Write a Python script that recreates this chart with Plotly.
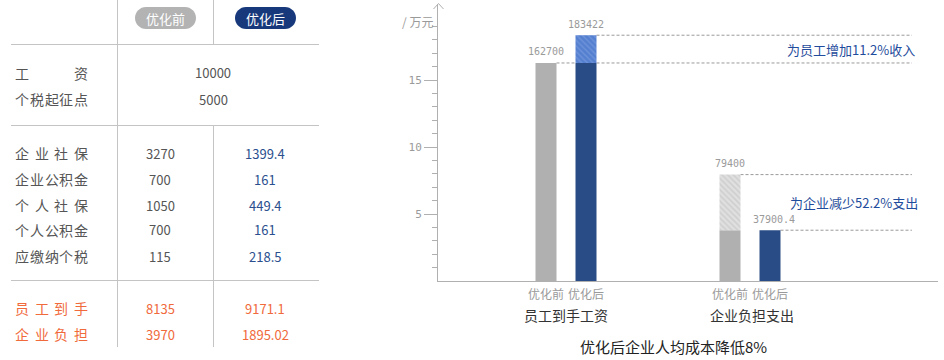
import plotly.graph_objects as go

W, H = 944, 360
CJK = "Noto Sans CJK SC"
MONO = "DejaVu Sans Mono"

# ---------------- table data ----------------
table_header = ["优化前", "优化后"]
merged_labels = ["工资", "个税起征点"]
merged_values = [10000, 5000]
item_labels = ["企业社保", "企业公积金", "个人社保", "个人公积金", "应缴纳个税"]
item_before = [3270, 700, 1050, 700, 115]
item_after = [1399.4, 161, 449.4, 161, 218.5]
total_labels = ["员工到手", "企业负担"]
total_before = [8135, 3970]
total_after = [9171.1, 1895.02]

# ---------------- chart data ----------------
categories = ["员工到手工资", "企业负担支出"]
series_names = ["优化前", "优化后"]
before_yearly = [162700, 79400]
after_yearly = [183422, 37900.4]
diff_notes = ["为员工增加11.2%收入", "为企业减少52.2%支出"]
chart_title = "优化后企业人均成本降低8%"
y_unit = "/ 万元"
y_tickvals = [5, 10, 15]
y_minor_tickvals = list(range(1, 20))

# ---------------- styles ----------------
GRAY_BAR = "#b0b0b1"
NAVY_BAR = "#2a4c86"
LINE = "#c4c4c4"
AXIS = "#b0b0b0"
TXT = "#555555"
BLUE_TXT = "#2b4f8e"
ORANGE = "#f06a3c"


def fmt(v):
    return str(int(v)) if float(v) == int(v) else str(v)


def P(x, y):
    return x / W, 1 - y / H


def wan(v):
    return v / 10000.0


fig = go.Figure()

# ---------------- bars ----------------
lo = [min(b, a) for b, a in zip(before_yearly, after_yearly)]
fig.add_trace(go.Bar(x=categories, y=[wan(v) for v in lo], offsetgroup="b",
                     name=series_names[0], marker=dict(color=GRAY_BAR, line=dict(width=0))))
fig.add_trace(go.Bar(x=categories, y=[wan(v) for v in lo], offsetgroup="a",
                     name=series_names[1], marker=dict(color=NAVY_BAR, line=dict(width=0))))
hb = [(c, l, b) for c, l, b in zip(categories, lo, before_yearly) if b > l]
ha = [(c, l, a) for c, l, a in zip(categories, lo, after_yearly) if a > l]
fig.add_trace(go.Bar(x=[h[0] for h in hb], base=[wan(h[1]) for h in hb],
                     y=[wan(h[2] - h[1]) for h in hb], offsetgroup="b",
                     marker=dict(color="#dadada", line=dict(width=0),
                                 pattern=dict(shape="\\", fgcolor="#bcbcbc", bgcolor="#e0e0e0",
                                              size=4, solidity=0.4))))
fig.add_trace(go.Bar(x=[h[0] for h in ha], base=[wan(h[1]) for h in ha],
                     y=[wan(h[2] - h[1]) for h in ha], offsetgroup="a",
                     marker=dict(color="#5b84d2", line=dict(width=0),
                                 pattern=dict(shape="\\", fgcolor="#86a6e2", bgcolor="#5580d0",
                                              size=4, solidity=0.35))))

BARGAP = 0.5652
BARGROUPGAP = 0.475
slot = (1 - BARGAP) / 2
half_w = slot * (1 - BARGROUPGAP) / 2
offs = [-slot / 2, slot / 2]
X_END = 1.88

shapes = []
annotations = []

# dashed reference lines + value labels + notes
for i, c in enumerate(categories):
    vals = [before_yearly[i], after_yearly[i]]
    for k, v in enumerate(vals):
        shapes.append(dict(type="line", xref="x", yref="y", layer="below",
                           x0=i + offs[k] + half_w, x1=X_END, y0=wan(v), y1=wan(v),
                           line=dict(color="#9a9a9a", width=1, dash="3px,2px")))
        annotations.append(dict(x=c, y=wan(v), xref="x", yref="y", text=fmt(v),
                                showarrow=False, xanchor="center",
                                xshift=offs[k] / slot * 40 + (4 if k == 1 and i == 1 else 0),
                                yshift=11, yanchor="middle",
                                font=dict(family=MONO, size=10, color="#9a9a9a")))
        annotations.append(dict(x=c, y=1 - 293 / H, xref="x", yref="paper", text=series_names[k],
                                showarrow=False, xanchor="center", xshift=offs[k] / slot * 40,
                                yanchor="middle",
                                font=dict(family=CJK, size=12, color="#9a9a9a")))
    annotations.append(dict(x=X_END, y=wan((vals[0] + vals[1]) / 2), xref="x", yref="y",
                            text=diff_notes[i], showarrow=False, xanchor="right", xshift=5 + 3 * i,
                            yanchor="middle", font=dict(family=CJK, size=13, color="#1f4c9c")))
    annotations.append(dict(x=c, y=1 - 315 / H, xref="x", yref="paper", text=c,
                            showarrow=False, xanchor="center", yanchor="middle", xshift=2 * i,
                            font=dict(family=CJK, size=14, color="#333333")))

# title
annotations.append(dict(x=673 / W, y=1 - 346 / H, xref="paper", yref="paper", text=chart_title,
                        showarrow=False, xanchor="center", yanchor="middle",
                        font=dict(family=CJK, size=15, color="#222222")))
# unit
annotations.append(dict(x=435 / W, y=1 - 21 / H, xref="paper", yref="paper", text=y_unit,
                        showarrow=False, xanchor="right", yanchor="middle",
                        font=dict(family=CJK, size=12, color="#9a9a9a")))
# y-axis arrow head
a1, a2, a3 = P(433.5, 9), P(438.5, 3.5), P(443.5, 9)
shapes.append(dict(type="path", xref="paper", yref="paper",
                   path=f"M{a1[0]},{a1[1]} L{a2[0]},{a2[1]} L{a3[0]},{a3[1]}",
                   line=dict(color=AXIS, width=1)))


# ---------------- table ----------------
def hline(y, x0=11, x1=319):
    a, b = P(x0, y + 0.5), P(x1, y + 0.5)
    shapes.append(dict(type="line", xref="paper", yref="paper", x0=a[0], y0=a[1], x1=b[0], y1=b[1],
                       line=dict(color=LINE, width=1)))


def vline(x, y0, y1):
    a, b = P(x + 0.5, y0), P(x + 0.5, y1)
    shapes.append(dict(type="line", xref="paper", yref="paper", x0=a[0], y0=a[1], x1=b[0], y1=b[1],
                       line=dict(color=LINE, width=1)))


hline(44)
hline(125)
hline(280)
vline(117, 0, 347)
vline(213, 0, 44)
vline(213, 125, 347)


def pill(x0, y0, x1, y1, color):
    r = (y1 - y0) / 2
    yc = (y0 + y1) / 2
    k = 0.5523 * r
    pts = [("M", [(x0 + r, y0)]), ("L", [(x1 - r, y0)]),
           ("C", [(x1 - r + k, y0), (x1, yc - k), (x1, yc)]),
           ("C", [(x1, yc + k), (x1 - r + k, y1), (x1 - r, y1)]),
           ("L", [(x0 + r, y1)]),
           ("C", [(x0 + r - k, y1), (x0, yc + k), (x0, yc)]),
           ("C", [(x0, yc - k), (x0 + r - k, y0), (x0 + r, y0)])]
    s = ""
    for cmd, ps in pts:
        s += cmd + " ".join(f"{P(px, py)[0]:.5f},{P(px, py)[1]:.5f}" for px, py in ps) + " "
    shapes.append(dict(type="path", xref="paper", yref="paper", path=s + "Z",
                       fillcolor=color, line=dict(width=0)))


pill(135, 7, 196, 29, "#b3b3b3")
pill(235, 7, 296, 29, "#17397c")
for cx, t in zip([165.5, 265.5], table_header):
    x, y = P(cx, 18)
    annotations.append(dict(x=x, y=y, xref="paper", yref="paper", text=t, showarrow=False,
                            xanchor="center", yanchor="middle",
                            font=dict(family=CJK, size=13, color="white")))


def label(text, y, color):
    n = len(text)
    c0, c1 = 22, 81
    for j, ch in enumerate(text):
        cx = c0 + (c1 - c0) * j / (n - 1)
        x, yy = P(cx, y)
        annotations.append(dict(x=x, y=yy, xref="paper", yref="paper", text=ch, showarrow=False,
                                xanchor="center", yanchor="middle",
                                font=dict(family=CJK, size=14, color=color)))


def cell(text, cx, y, color):
    x, yy = P(cx, y)
    annotations.append(dict(x=x, y=yy, xref="paper", yref="paper", text=text, showarrow=False,
                            xanchor="center", yanchor="middle",
                            font=dict(family=CJK, size=13, color=color)))


merged_y = [73, 99]
for lab, v, y in zip(merged_labels, merged_values, merged_y):
    label(lab, y, TXT)
    cell(fmt(v), 213, y, TXT)

item_y = [153, 179, 205, 230, 256]
for lab, b, a, y in zip(item_labels, item_before, item_after, item_y):
    label(lab, y, TXT)
    cell(fmt(b), 160, y, TXT)
    cell(fmt(a), 265, y, BLUE_TXT)

total_y = [308, 334]
for lab, b, a, y in zip(total_labels, total_before, total_after, total_y):
    label(lab, y, ORANGE)
    cell(fmt(b), 160, y, ORANGE)
    cell(fmt(a), 265, y, ORANGE)

# ---------------- layout ----------------
Y_TOP = 277 / 13.4
fig.update_layout(
    width=W, height=H, margin=dict(l=0, r=0, t=0, b=0),
    paper_bgcolor="white", plot_bgcolor="white",
    showlegend=False, barmode="group", bargap=BARGAP, bargroupgap=BARGROUPGAP,
    shapes=shapes, annotations=annotations,
    xaxis=dict(domain=[438 / W, 938 / W], range=[-128 / 184, 372 / 184],
               showline=True, linecolor=AXIS, linewidth=1, showticklabels=False,
               ticks="", showgrid=False, zeroline=False, fixedrange=True),
    yaxis=dict(domain=[1 - 281 / H, 1 - 4 / H], range=[0, Y_TOP],
               showline=True, linecolor=AXIS, linewidth=1, showgrid=False, zeroline=False,
               tickmode="array", tickvals=y_tickvals, ticks="outside", ticklen=13,
               tickcolor=AXIS, tickwidth=1,
               tickfont=dict(family=MONO, size=11, color="#9a9a9a"),
               minor=dict(tickmode="array", tickvals=y_minor_tickvals, ticks="outside",
                          ticklen=5, tickcolor=AXIS, tickwidth=1, showgrid=False),
               fixedrange=True),
    font=dict(family=CJK),
)

fig.write_html("out.html", config={"displayModeBar": False},
               post_script="document.body.style.margin='0';document.body.style.overflow='hidden';")
